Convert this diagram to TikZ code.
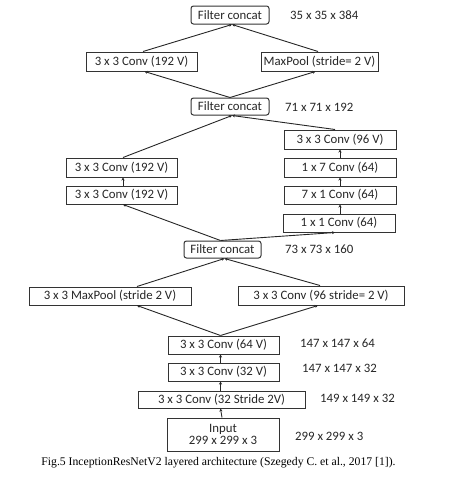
\documentclass[tikz,border=0pt]{standalone}
\usepackage{fontspec}
\setmainfont{Liberation Serif}
\newfontfamily\boxfont{Carlito}
\usetikzlibrary{arrows.meta}
\begin{document}
\begin{tikzpicture}[x=1pt,y=-1pt,
  box/.style={draw=black!80,line width=1pt,inner sep=0pt,minimum height=18pt,
    font=\boxfont\fontsize{12.8}{14}\selectfont,text=black!85},
  cbox/.style={box,rounded corners=2.5pt},
  dim/.style={anchor=west,inner sep=0pt,font=\boxfont\fontsize{12.8}{14}\selectfont,text=black!85},
  conn/.style={draw=black!85,line width=0.9pt,-{Stealth[length=3pt,width=3pt]}}]
\useasboundingbox (0,0) rectangle (450,477);
% nodes
\node[cbox,minimum width=78pt] (fc1) at (230,15) {Filter concat};
\node[dim] (d1) at (290,15) {35 x 35 x 384};
\node[box,minimum width=111pt,minimum height=19pt] (c192a) at (141.5,61.5) {3 x 3 Conv (192 V)};
\node[box,minimum width=117pt,minimum height=19pt] (mpa) at (319.5,61.5) {MaxPool (stride= 2 V)};
\node[cbox,minimum width=78pt,minimum height=17pt] (fc2) at (230,106.5) {Filter concat};
\node[dim] (d2) at (285,107) {71 x 71 x 192};
\node[box,minimum width=112pt,minimum height=19pt] (r96) at (340,139.5) {3 x 3 Conv (96 V)};
\node[box,minimum width=112pt,minimum height=19pt] (r17) at (340,167.5) {1 x 7 Conv (64)};
\node[box,minimum width=112pt] (r71) at (340,195) {7 x 1 Conv (64)};
\node[box,minimum width=112pt] (r11) at (339,223) {1 x 1 Conv (64)};
\node[box,minimum width=111pt,minimum height=19pt] (l1) at (121.5,167.5) {3 x 3 Conv (192 V)};
\node[box,minimum width=111pt] (l2) at (121.5,195) {3 x 3 Conv (192 V)};
\node[cbox,minimum width=77pt,minimum height=17pt] (fc3) at (222.5,249.5) {Filter concat};
\node[dim] (d3) at (285,249) {73 x 73 x 160};
\node[box,minimum width=162pt] (mp2) at (110,296) {3 x 3 MaxPool (stride 2 V)};
\node[box,minimum width=166pt,minimum height=19pt] (c96) at (321,295.5) {3 x 3 Conv (96 stride= 2 V)};
\node[box,minimum width=111pt] (c64) at (223.5,345) {3 x 3 Conv (64 V)};
\node[dim] (d4) at (300,343) {147 x 147 x 64};
\node[box,minimum width=111pt] (c32) at (223.5,372) {3 x 3 Conv (32 V)};
\node[dim] (d5) at (302,368) {147 x 147 x 32};
\node[box,minimum width=167pt,minimum height=17pt] (c32s) at (221.5,399.5) {3 x 3 Conv (32 Stride 2V)};
\node[dim] (d6) at (320,398) {149 x 149 x 32};
\node[box,minimum width=112pt,minimum height=33pt,align=center] (inp) at (223,434.5) {Input\\[-2pt]299 x 299 x 3};
\node[dim] (d7) at (295,436) {299 x 299 x 3};
\node[inner sep=0pt,font=\fontsize{11.7}{13}\selectfont] (cap) at (218.5,463) {Fig.5 InceptionResNetV2 layered architecture (Szegedy C. et al., 2017 [1]).};
% connectors
\draw[conn] ([xshift=1.5pt]c192a.north) -- ([xshift=2pt]fc1.south);
\draw[conn] ([xshift=-1.5pt]mpa.north) -- ([xshift=2pt]fc1.south);
\draw[conn] (fc2.north) -- ([xshift=3pt]c192a.south);
\draw[conn] (fc2.north) -- ([xshift=-4pt]mpa.south);
\draw[conn] ([xshift=1.5pt]l1.north) -- ([xshift=2pt]fc2.south);
\draw[conn] ([xshift=-5pt]r96.north) -- ([xshift=2pt]fc2.south);
\draw[conn] ([xshift=1.5pt]l2.north) -- ([xshift=1.5pt]l1.south);
\draw[conn] ([xshift=1pt]r11.north) -- (r71.south);
\draw[conn] (r71.north) -- (r17.south);
\draw[conn] (r17.north) -- (r96.south);
\draw[conn] ([xshift=-2pt]fc3.north) -- ([xshift=1.5pt]l2.south);
\draw[conn] ([xshift=-2pt]fc3.north) -- ([xshift=-4pt]r11.south);
\draw[conn] ([xshift=27pt]mp2.north) -- ([xshift=2pt]fc3.south);
\draw[conn] ([xshift=-1pt]c96.north) -- ([xshift=2pt]fc3.south);
\draw[conn] ([xshift=-3pt]c64.north) -- ([xshift=27pt]mp2.south);
\draw[conn] ([xshift=-3pt]c64.north) -- ([xshift=-3pt]c96.south);
\draw[conn] ([xshift=-3pt]c32.north) -- ([xshift=-3pt]c64.south);
\draw[conn] ([xshift=-1pt]c32s.north) -- ([xshift=-3pt]c32.south);
\draw[conn] ([xshift=-1pt]inp.north) -- ([xshift=-1pt]c32s.south);
\end{tikzpicture}
\end{document}
